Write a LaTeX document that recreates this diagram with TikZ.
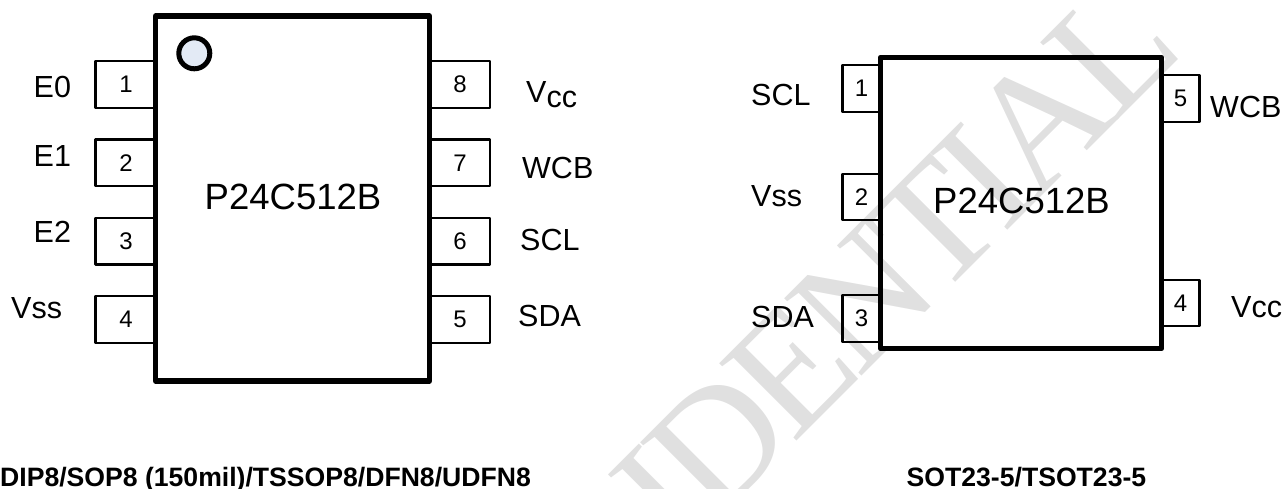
\documentclass[tikz,border=0pt]{standalone}
\usepackage{fontspec}
\setmainfont{Liberation Sans}
\newfontfamily\markfont[LetterSpace=-5.5]{Liberation Serif}
\usepackage{tikz}
\usetikzlibrary{positioning}
\definecolor{markgray}{HTML}{E0E0E0}
\definecolor{dotblue}{HTML}{E3EAF5}
\newcommand{\sigsize}{\fontsize{30.5}{36}\selectfont}
\begin{document}
\begin{tikzpicture}[x=1pt,y=-1pt,line join=round,
    chipbox/.style={draw,line width=5.4pt,inner sep=0pt},
    pinbox/.style={draw,line width=2.3pt,inner sep=0pt,minimum height=46.5pt,font=\fontsize{24}{28}\selectfont},
    longpin/.style={pinbox,minimum width=61pt},
    shortpin/.style={pinbox,minimum width=60pt},
    tinypin/.style={pinbox,minimum width=38pt},
    sig/.style={anchor=base west,inner sep=0pt,font=\sigsize},
    partname/.style={inner sep=0pt,font=\fontsize{36.5}{42}\selectfont},
    pkgname/.style={anchor=base west,inner sep=0pt,font=\fontsize{26.6}{30}\bfseries\selectfont}]
    \useasboundingbox (0,0) rectangle (1286,488);
    \clip (0,0) rectangle (1286,488);
    \node[text=markgray,anchor=base east,rotate=45,inner sep=0pt,font=\fontsize{167}{190}\markfont\selectfont] (mark) at (1187,51) {IDENTIAL};
    % first package
    \node[longpin] (a1) at (126,84.5) {1};
    \node[longpin] (a2) [below=29.5pt of a1] {2};
    \node[longpin] (a3) [below=29.5pt of a2] {3};
    \node[longpin] (a4) [below=29.5pt of a3] {4};
    \node[shortpin] (a8) at (460,84.5) {8};
    \node[shortpin] (a7) [below=29.5pt of a8] {7};
    \node[shortpin] (a6) [below=29.5pt of a7] {6};
    \node[shortpin] (a5) [below=29.5pt of a6] {5};
    \node[chipbox,minimum width=274pt,minimum height=365pt] (chipa) at (292.5,198.5) {};
    \node[partname] (namea) at (293,197) {P24C512B};
    \node[circle,draw,line width=5pt,fill=dotblue,minimum size=31pt,inner sep=0pt] (dot) at (194.3,53.3) {};
    \node[sig] (e0) at (33.5,97) {E0};
    \node[sig] (e1) at (33.5,166) {E1};
    \node[sig] (e2) at (33.5,242) {E2};
    \node[sig] (vssa) at (11,318) {Vss};
    \node[sig] (vcca) at (526,102) {V\raisebox{-5pt}{cc}};
    \node[sig] (wcba) at (522,178) {WCB};
    \node[sig] (scla) at (520,250) {SCL};
    \node[sig] (sdaa) at (518,326) {SDA};
    \node[pkgname] (pkga) at (0,486) {DIP8/SOP8 (150mil)/TSSOP8/DFN8/UDFN8};
    % second package
    \node[tinypin] (b1) at (861.5,88.5) {1};
    \node[tinypin] (b2) at (861.5,197) {2};
    \node[tinypin] (b3) at (861.5,318.5) {3};
    \node[tinypin] (b5) at (1180.5,98.5) {5};
    \node[tinypin] (b4) at (1180.5,303) {4};
    \node[chipbox,minimum width=281pt,minimum height=291pt] (chipb) at (1021,203) {};
    \node[partname] (nameb) at (1021.5,201) {P24C512B};
    \node[sig] (sclb) at (751,105) {SCL};
    \node[sig] (vssb) at (751,206) {Vss};
    \node[sig] (sdab) at (751,327) {SDA};
    \node[sig] (wcbb) at (1210,117) {WCB};
    \node[sig] (vccb) at (1231,317) {Vcc};
    \node[pkgname] (pkgb) at (906.5,486) {SOT23-5/TSOT23-5};
\end{tikzpicture}
\end{document}
